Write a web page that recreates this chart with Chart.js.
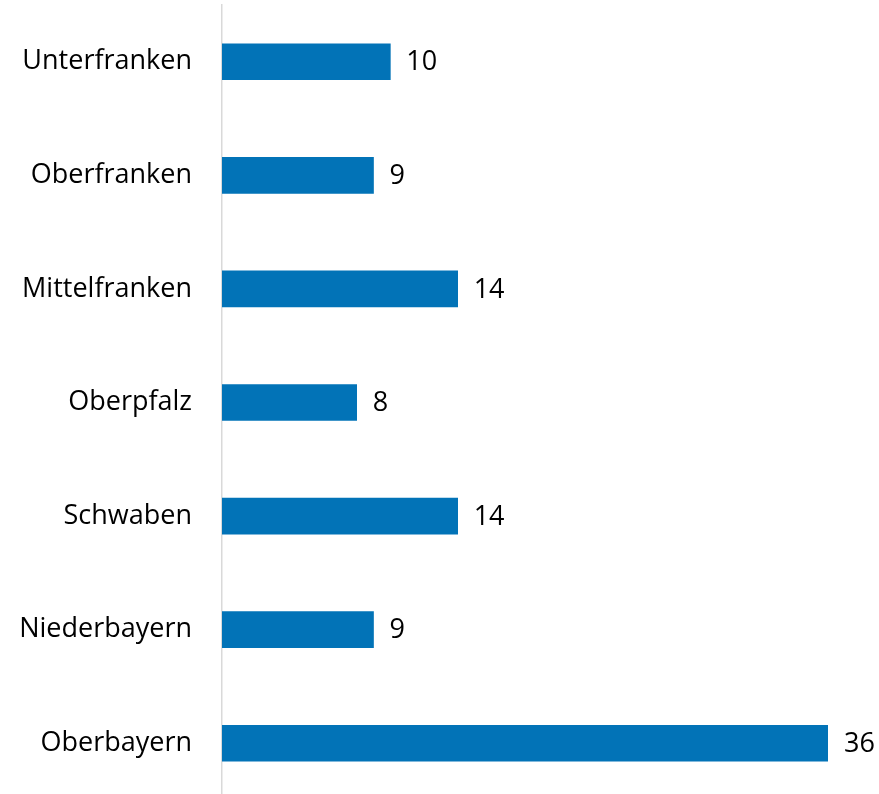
<!DOCTYPE html>
<html>
<head>
<meta charset="utf-8">
<script src="https://cdn.jsdelivr.net/npm/chart.js@4"></script>
<style>
    html, body { margin: 0; padding: 0; background: #fff; overflow: hidden; }
    #wrap { width: 879px; height: 800px; position: relative; }
</style>
</head>
<body>
<div id="wrap"><canvas id="chart"></canvas></div>
<script>
// Regierungsbezirke und Werte (von oben nach unten)
var regions = ['Unterfranken', 'Oberfranken', 'Mittelfranken', 'Oberpfalz', 'Schwaben', 'Niederbayern', 'Oberbayern'];
var values = [10, 9, 14, 8, 14, 9, 36];

var FONT = '"Open Sans", Lato, sans-serif';

// Draw the value next to each bar
var valueLabels = {
    id: 'valueLabels',
    afterDatasetsDraw: function(chart) {
        var ctx = chart.ctx;
        var meta = chart.getDatasetMeta(0);
        ctx.save();
        ctx.font = '27px ' + FONT;
        ctx.fillStyle = '#000';
        ctx.textAlign = 'left';
        ctx.textBaseline = 'middle';
        meta.data.forEach(function(bar, i) {
            ctx.fillText(String(values[i]), bar.x + 16, bar.y + 1);
        });
        ctx.restore();
    }
};

document.addEventListener('DOMContentLoaded', function() {
    var ctx = document.getElementById('chart');
    new Chart(ctx, {
        type: 'bar',
        data: {
            labels: regions,
            datasets: [{
                data: values,
                backgroundColor: '#0273B7',
                borderWidth: 0,
                barThickness: 36
            }]
        },
        options: {
            indexAxis: 'y',
            responsive: true,
            maintainAspectRatio: false,
            animation: false,
            layout: { padding: { top: 5, right: 51, left: 0, bottom: 0 } },
            plugins: {
                legend: { display: false },
                tooltip: { enabled: false }
            },
            scales: {
                x: {
                    display: false,
                    min: 0,
                    max: 36
                },
                y: {
                    afterFit: function(axis) {
                        axis.width = 222;
                        axis.paddingTop = 0;
                        axis.paddingBottom = 0;
                    },
                    grid: { display: false, drawTicks: false },
                    border: { display: true, color: '#d9d9d9', width: 1.5 },
                    ticks: {
                        padding: 30,
                        color: '#000',
                        font: { family: FONT, size: 27 }
                    }
                }
            }
        },
        plugins: [valueLabels]
    });
});
</script>
</body>
</html>
